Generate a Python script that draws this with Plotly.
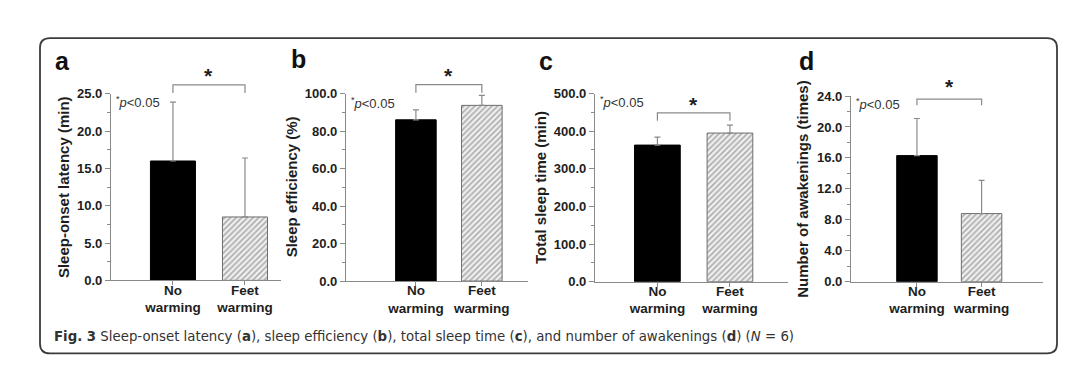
import plotly.graph_objects as go

# ---------------- data ----------------
categories = ["No<br>warming", "Feet<br>warming"]
panel_letters = ["a", "b", "c", "d"]
y_titles = ["Sleep-onset latency (min)", "Sleep efficiency (%)",
            "Total sleep time (min)", "Number of awakenings (times)"]
latency_mean = [16.0, 8.5]
latency_sd = [7.9, 7.9]
efficiency_mean = [86.0, 93.7]
efficiency_sd = [5.3, 5.3]
sleep_time_mean = [363.0, 395.0]
sleep_time_sd = [21.0, 21.0]
awakenings_mean = [16.3, 8.8]
awakenings_sd = [4.8, 4.3]
y_max = [25, 100, 500, 24]
y_dtick = [5, 20, 100, 4]
bracket_y = [(25.1, 26.2), (100.4, 104.8), (427.7, 448.9), (22.8, 23.6)]
star_y = [27.4, 109.6, 472, 25.2]
p_text = "<sup>*</sup><i>p</i>&lt;0.05"
caption = ("<b>Fig. 3</b> Sleep-onset latency (<b>a</b>), sleep efficiency (<b>b</b>), "
           "total sleep time (<b>c</b>), and number of awakenings (<b>d</b>) (<i>N</i> = 6)")

means = [latency_mean, efficiency_mean, sleep_time_mean, awakenings_mean]
sds = [latency_sd, efficiency_sd, sleep_time_sd, awakenings_sd]

# ---------------- layout geometry (pixels) ----------------
W, H = 1080, 390
x_px = [(103, 273), (338, 520), (587, 780), (843, 1035)]
y_px = [(276, 82), (276.7, 81.7), (277.3, 81.7), (277.3, 84.3)]
x_ranges = [[-0.86, 1.5], [-1.06, 1.70], [-0.86, 1.80], [-1.02, 1.95]]
bar_w = [0.625, 0.615, 0.63, 0.626]
letter_px = [(54, 48), (290, 46), (538, 48), (798, 48)]
p_px = [90, 91.7, 90, 92.7]
ytitle_off = [48, 55, 54.5, 48]

AX = "#8a8a8a"
TXT = "#1e1e1e"
FONT = "Liberation Sans"

fig = go.Figure()
annotations = []
shapes = []

for i in range(4):
    sfx = "" if i == 0 else str(i + 1)
    xa, ya = "x" + sfx, "y" + sfx
    fig.add_trace(go.Bar(
        x=[0], y=[means[i][0]], xaxis=xa, yaxis=ya, width=bar_w[i],
        marker=dict(color="#000000", line=dict(color="#000000", width=1)),
        error_y=dict(type="data", array=[sds[i][0]], arrayminus=[0], symmetric=False,
                     color=AX, thickness=1.2, width=3),
        showlegend=False, hoverinfo="skip"))
    fig.add_trace(go.Bar(
        x=[1], y=[means[i][1]], xaxis=xa, yaxis=ya, width=bar_w[i],
        marker=dict(color="#e6e6e6", line=dict(color="#6e6e6e", width=1),
                    pattern=dict(shape="/", fgcolor="#6a6a6a", bgcolor="#efefef",
                                 size=4, solidity=0.4)),
        error_y=dict(type="data", array=[sds[i][1]], arrayminus=[0], symmetric=False,
                     color=AX, thickness=1.2, width=3),
        showlegend=False, hoverinfo="skip"))

    xd = [x_px[i][0] / W, x_px[i][1] / W]
    yd = [1 - y_px[i][0] / H, 1 - y_px[i][1] / H]
    fig.layout["xaxis" + sfx] = dict(
        domain=xd, anchor=ya, range=x_ranges[i],
        tickmode="array", tickvals=[0, 1], ticktext=categories,
        ticks="outside", ticklen=4, tickcolor=AX, showline=True, linecolor=AX, linewidth=1.2,
        ticklabelstandoff=-7,
        showgrid=False, zeroline=False, fixedrange=True,
        tickfont=dict(family=FONT, size=13.5, color=TXT, weight="bold"))
    fig.layout["yaxis" + sfx] = dict(
        domain=yd, anchor=xa, range=[0, y_max[i]], dtick=y_dtick[i], tickformat=".1f",
        ticks="outside", ticklen=5, tickcolor=AX, showline=True, linecolor=AX, linewidth=1.2,
        minor=dict(dtick=y_dtick[i] / 2, ticks="outside", ticklen=3, tickcolor=AX),
        showgrid=False, zeroline=False, fixedrange=True,
        tickfont=dict(family=FONT, size=13, color=TXT, weight="bold"))

    # bracket in domain coordinates
    r0, r1 = x_ranges[i]
    xl = (0 - r0) / (r1 - r0)
    xr = (1 - r0) / (r1 - r0)
    yb = bracket_y[i][0] / y_max[i]
    yt = bracket_y[i][1] / y_max[i]
    shapes.append(dict(type="path", xref=xa + " domain", yref=ya + " domain",
                       path=f"M {xl},{yb} L {xl},{yt} L {xr},{yt} L {xr},{yb}",
                       line=dict(color=AX, width=1.2)))
    annotations.append(dict(xref=xa + " domain", yref=ya + " domain",
                            x=(xl + xr) / 2, y=star_y[i] / y_max[i], text="<b>*</b>",
                            showarrow=False, xanchor="center", yanchor="middle",
                            font=dict(family=FONT, size=21, color=TXT)))
    annotations.append(dict(xref="paper", yref="paper",
                            x=(x_px[i][0] + 3) / W, y=1 - p_px[i] / H, text=p_text,
                            showarrow=False, xanchor="left", yanchor="middle",
                            font=dict(family=FONT, size=13, color="#333333")))
    annotations.append(dict(xref="paper", yref="paper",
                            x=letter_px[i][0] / W, y=1 - letter_px[i][1] / H,
                            text="<b>" + panel_letters[i] + "</b>",
                            showarrow=False, xanchor="center", yanchor="middle",
                            font=dict(family=FONT, size=25, color="#111111")))
    annotations.append(dict(xref="paper", yref=ya + " domain",
                            x=(x_px[i][0] - ytitle_off[i]) / W, y=0.5,
                            text="<b>" + y_titles[i] + "</b>", textangle=-90,
                            showarrow=False, xanchor="center", yanchor="middle",
                            font=dict(family=FONT, size=15, color=TXT)))

annotations.append(dict(xref="paper", yref="paper", x=44 / W, y=1 - 333 / H,
                        text=caption, showarrow=False, xanchor="left", yanchor="middle",
                        font=dict(family="DejaVu Sans Condensed, DejaVu Sans",
                                  size=14.8, color="#333333")))

# rounded frame
x0, x1, y0, y1 = 32 / W, 1049 / W, 1 - 24 / H, 1 - 352 / H
rx, ry = 10 / W, 10 / H
frame = (f"M {x0 + rx},{y0} L {x1 - rx},{y0} Q {x1},{y0} {x1},{y0 - ry} "
         f"L {x1},{y1 + ry} Q {x1},{y1} {x1 - rx},{y1} L {x0 + rx},{y1} "
         f"Q {x0},{y1} {x0},{y1 + ry} L {x0},{y0 - ry} Q {x0},{y0} {x0 + rx},{y0} Z")
shapes.append(dict(type="path", xref="paper", yref="paper", path=frame,
                   line=dict(color="#3c3c3c", width=1.8), layer="below"))

fig.update_layout(width=W, height=H, margin=dict(l=0, r=0, t=0, b=0),
                  paper_bgcolor="white", plot_bgcolor="rgba(0,0,0,0)",
                  annotations=annotations, shapes=shapes, barmode="overlay",
                  font=dict(family=FONT))
fig.write_html("out.html", config={"displayModeBar": False})
